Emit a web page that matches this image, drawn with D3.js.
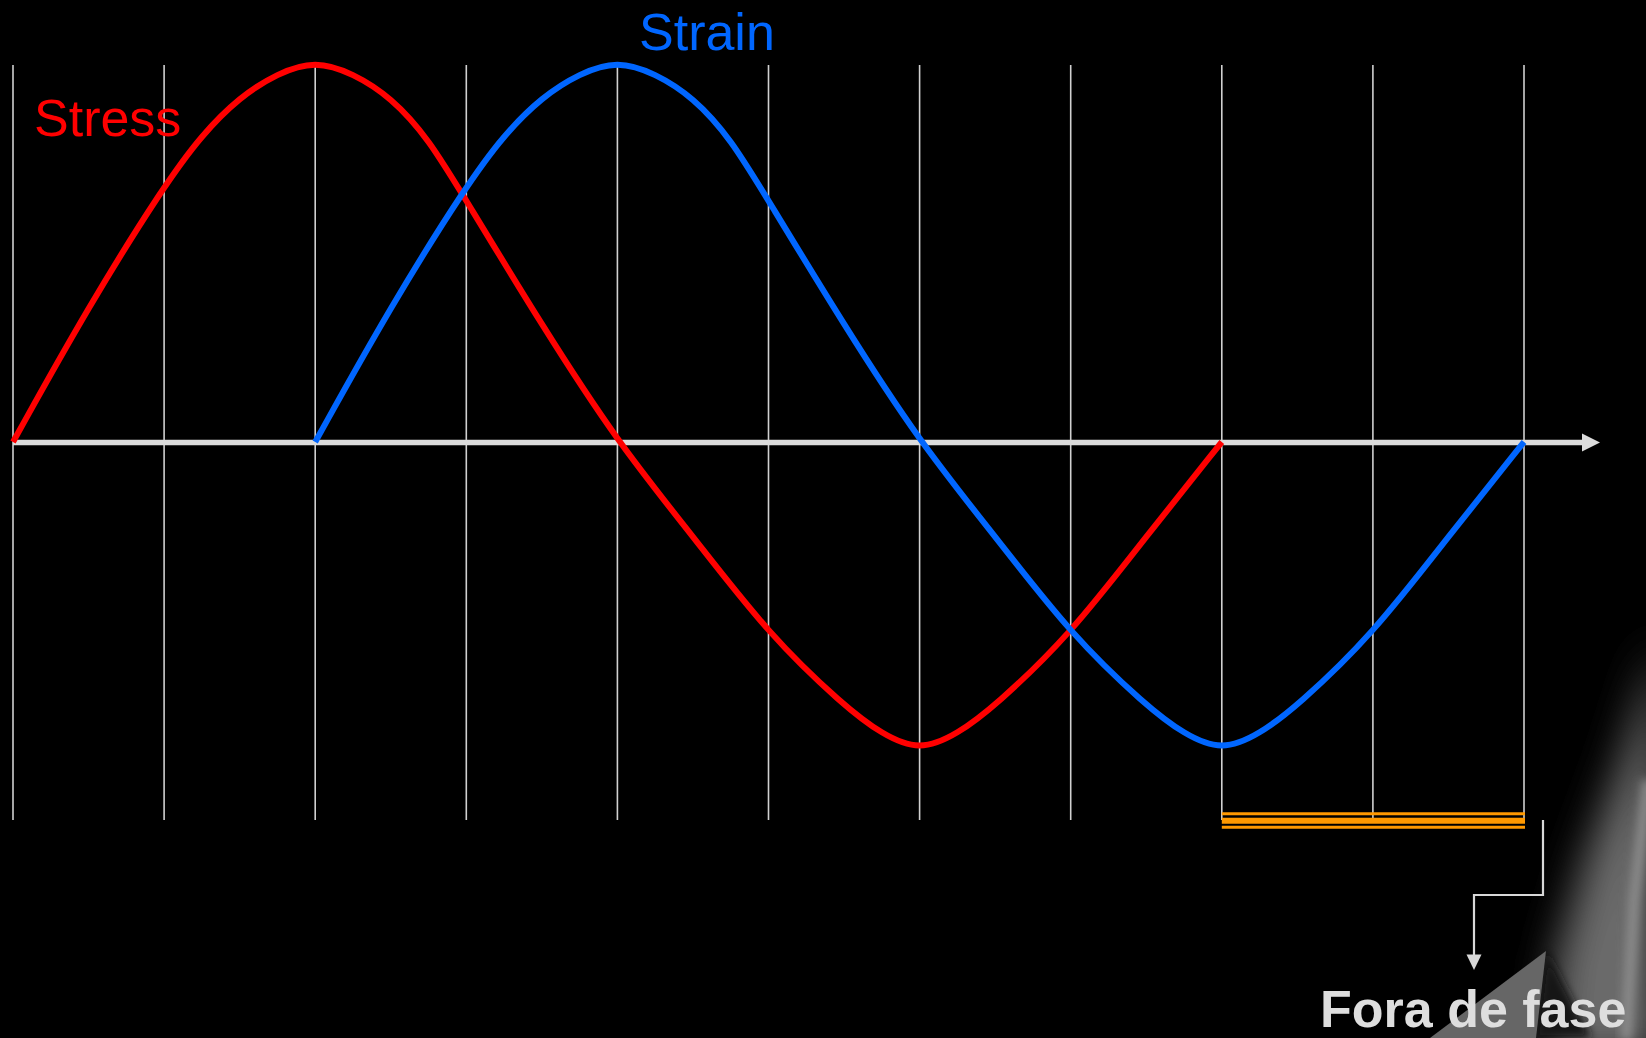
<!DOCTYPE html>
<html>
<head>
<meta charset="utf-8">
<script src="https://cdn.jsdelivr.net/npm/d3@7"></script>
<style>
  html, body { margin: 0; padding: 0; background: #000; }
  svg { display: block; }
</style>
</head>
<body>
<svg id="chart" width="1646" height="1038"></svg>
<script>
// ---- data (phase in grid units, amplitude relative to stress peak) ----
const gridTicks = [0, 1, 2, 3, 4, 5, 6, 7, 8, 9, 10];
const stressX = [0, 0.5, 1.0, 1.25, 1.5, 1.75, 2.0, 2.25, 2.5, 2.75, 3.0, 3.5, 4.0, 4.5, 5.0, 5.5, 5.75, 6.0, 6.25, 6.5, 7.0, 7.5, 8.0];
const stressY = [0, 0.36, 0.68, 0.815, 0.915, 0.978, 1.012, 0.978, 0.915, 0.805, 0.64, 0.31, 0, -0.25, -0.51, -0.70, -0.775, -0.82, -0.775, -0.70, -0.51, -0.25, 0];
const strainX = [2.0, 2.5, 3.0, 3.25, 3.5, 3.75, 4.0, 4.25, 4.5, 4.75, 5.0, 5.5, 6.0, 6.5, 7.0, 7.5, 7.75, 8.0, 8.25, 8.5, 9.0, 9.5, 10.0];
const strainY = [0, 0.36, 0.68, 0.815, 0.915, 0.978, 1.012, 0.978, 0.915, 0.805, 0.64, 0.31, 0, -0.25, -0.51, -0.70, -0.775, -0.82, -0.775, -0.70, -0.51, -0.25, 0];
const seriesLabels = ["Stress", "Strain"];
const seriesColors = ["#ff0000", "#0066ff"];
const lagRange = [8, 10];          // out-of-phase interval (grid units)
const lagLabel = "Fora de fase";

// ---- scales ----
const svg = d3.select("#chart");
const x = d3.scaleLinear().domain([0, 10]).range([13, 1524]);
const y = d3.scaleLinear().domain([-0.8, 1]).range([743.6, 65]);
const FONT = "'Liberation Sans', Arial, Helvetica, sans-serif";

svg.append("rect").attr("width", 1646).attr("height", 1038).attr("fill", "#000");

// ---- decorative background swoosh (bottom right) ----
const defs = svg.append("defs");
defs.append("filter").attr("id", "blurBig").attr("x", "-50%").attr("y", "-50%").attr("width", "200%").attr("height", "200%")
  .append("feGaussianBlur").attr("stdDeviation", 20);
defs.append("filter").attr("id", "blurSmall").attr("x", "-50%").attr("y", "-50%").attr("width", "200%").attr("height", "200%")
  .append("feGaussianBlur").attr("stdDeviation", 5);
const deco = svg.append("g");
deco.append("path")
  .attr("d", "M1660,640 L1660,1060 L1548,1060 L1556,960 L1585,860 L1622,760 Z")
  .attr("fill", "#6a6a6a").attr("filter", "url(#blurBig)");
deco.append("path")
  .attr("d", "M1648,780 L1634,900 L1626,1040")
  .attr("fill", "none").attr("stroke", "#8a8a8a").attr("stroke-width", 12).attr("filter", "url(#blurSmall)");
deco.append("path")
  .attr("d", "M1546,951 L1536,1038 L1592,1038 Z")
  .attr("fill", "#151515").attr("filter", "url(#blurSmall)");
deco.append("path")
  .attr("d", "M1546,951 L1430,1038 L1536,1038 Z")
  .attr("fill", "#666666");

// ---- grid lines ----
svg.append("g").selectAll("line").data(gridTicks).join("line")
  .attr("x1", d => x(d)).attr("x2", d => x(d))
  .attr("y1", y(1)).attr("y2", 820)
  .attr("stroke", "#d0d0d0").attr("stroke-width", 1.6);

// ---- horizontal axis with arrow ----
const axisY = y(0) + 0.5;
svg.append("line")
  .attr("x1", x(0)).attr("x2", 1584).attr("y1", axisY).attr("y2", axisY)
  .attr("stroke", "#dcdcdc").attr("stroke-width", 5.5);
svg.append("path")
  .attr("d", `M1582,${axisY - 9} L1600,${axisY} L1582,${axisY + 9} Z`)
  .attr("fill", "#dcdcdc");

// ---- curves ----
const line = d3.line().x(d => x(d[0])).y(d => y(d[1])).curve(d3.curveBasis);
const stress = stressX.map((v, i) => [v, stressY[i]]);
const strain = strainX.map((v, i) => [v, strainY[i]]);
[stress, strain].forEach((s, i) => {
  svg.append("path").datum(s).attr("d", line)
    .attr("fill", "none").attr("stroke", seriesColors[i])
    .attr("stroke-width", 6).attr("stroke-linejoin", "round");
});

// ---- series labels ----
svg.append("text").attr("x", 34).attr("y", 136).text(seriesLabels[0])
  .attr("font-family", FONT).attr("font-size", 52).attr("fill", seriesColors[0]);
svg.append("text").attr("x", 639).attr("y", 50).text(seriesLabels[1])
  .attr("font-family", FONT).attr("font-size", 52).attr("fill", seriesColors[1]);

// ---- out-of-phase marker (orange triple line) ----
const og = svg.append("g");
[[813.8, 3], [820.7, 6], [827.3, 3]].forEach(([yy, w]) => {
  og.append("line").attr("x1", x(lagRange[0])).attr("x2", x(lagRange[1]) + 1)
    .attr("y1", yy).attr("y2", yy).attr("stroke", "#ff9900").attr("stroke-width", w);
});

// ---- connector arrow ----
const cx1 = x(lagRange[1]) + 19;
svg.append("path")
  .attr("d", `M${cx1},820 L${cx1},895 L1474,895 L1474,957`)
  .attr("fill", "none").attr("stroke", "#d8d8d8").attr("stroke-width", 2.2);
svg.append("path")
  .attr("d", "M1466.5,954.5 L1481.5,954.5 L1474,970 Z")
  .attr("fill", "#d8d8d8");

// ---- label ----
svg.append("text").attr("x", 1320).attr("y", 1027).text(lagLabel)
  .attr("font-family", FONT).attr("font-size", 52).attr("font-weight", "bold")
  .attr("fill", "#dedede");
</script>
</body>
</html>
